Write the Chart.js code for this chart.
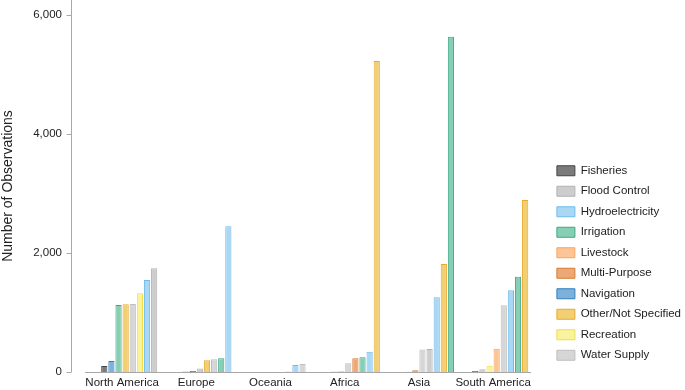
<!DOCTYPE html>
<html><head><meta charset="utf-8">
<script src="https://cdn.jsdelivr.net/npm/chart.js@4/dist/chart.umd.min.js"></script>
<style>html,body{margin:0;padding:0;background:#fff}#wrap{width:685px;height:390px;position:relative}</style>
</head><body><div id="wrap"><canvas id="c"></canvas></div>
<script>
// ---- data ----
const REGIONS = ['North America', 'Europe', 'Oceania', 'Africa', 'Asia', 'South America'];
const SERIES = ['Fisheries', 'Flood Control', 'Hydroelectricity', 'Irrigation', 'Livestock',
  'Multi-Purpose', 'Navigation', 'Other/Not Specified', 'Recreation', 'Water Supply'];
const fisheries         = [100,  17,   0,    0,    0,   17];
const floodControl      = [1743, 57,   0,    12,   385, 45];
const hydroelectricity  = [1546, 2450, 118,  341,  1255, 1373];
const irrigation        = [1126, 232,  0,    247,  5635, 1602];
const livestock         = [0,    0,    10,   8,    0,   392];
const multiPurpose      = [0,    0,    0,    230,  30,  0];
const navigation        = [185,  10,   0,    0,    0,   0];
const otherNotSpecified = [1138, 196,  0,    5227, 1815, 2890];
const recreation        = [1322, 5,    0,    0,    10,  107];
const waterSupply       = [1143, 213,  135,  145,  380, 1120];
const Y_TICKS = [0, 2000, 4000, 6000];

// ---- styles ----
const FILL = ['#7b7b7b', '#cdcdcd', '#a9d7f4', '#86cfb4', '#fdc496', '#eca977', '#7bb1da', '#f3cf74', '#f9f29e', '#d6d6d6'];
const STROKE = ['#454545', '#b3b3b3', '#6ebcea', '#3aa883', '#f9a55c', '#d87a30', '#2f80bf', '#e8aa2c', '#efdf45', '#bebebe'];

const VALUES = [fisheries, floodControl, hydroelectricity, irrigation, livestock,
  multiPurpose, navigation, otherNotSpecified, recreation, waterSupply];

// bars within each region are ordered by value (ascending)
const sorted = REGIONS.map((_, c) =>
  SERIES.map((_, s) => ({ s, v: VALUES[s][c] }))
    .sort((a, b) => a.v - b.v || a.s - b.s));

const datasets = SERIES.map((_, r) => ({
  label: 'rank' + r,
  data: REGIONS.map((_, c) => sorted[c][r].v || null),
  backgroundColor: REGIONS.map((_, c) => FILL[sorted[c][r].s]),
  borderColor: REGIONS.map((_, c) => STROKE[sorted[c][r].s]),
  borderWidth: 1,
  categoryPercentage: 0.96,
  barPercentage: 0.87
}));

Chart.defaults.font.family = "'Liberation Sans', Arial, Helvetica, sans-serif";
Chart.defaults.color = '#222';

const yAxisLine = {
  id: 'yAxisLine',
  afterDraw(chart) {
    const { ctx, chartArea } = chart;
    const y = chart.scales.y;
    const x = Math.round(chartArea.left - 14) + 0.5;
    ctx.save();
    ctx.strokeStyle = '#a8a8a8';
    ctx.lineWidth = 1;
    ctx.beginPath();
    ctx.moveTo(x, chartArea.top);
    ctx.lineTo(x, chartArea.bottom);
    Y_TICKS.forEach(v => {
      const py = Math.round(y.getPixelForValue(v)) + 0.5;
      ctx.moveTo(x - 5, py);
      ctx.lineTo(x, py);
    });
    ctx.stroke();
    ctx.restore();
  }
};

new Chart(document.getElementById('c'), {
  type: 'bar',
  data: { labels: REGIONS, datasets },
  options: {
    responsive: true,
    maintainAspectRatio: false,
    animation: false,
    layout: { padding: { left: 0, right: -6, top: 0, bottom: 0 } },
    plugins: {
      tooltip: { enabled: false },
      legend: {
        position: 'right',
        align: 'start',
        fullSize: false,
        onClick: () => {},
        title: {
          display: true,
          text: ' ',
          font: { size: 10, lineHeight: 1 },
          padding: { top: 146, bottom: 0 }
        },
        labels: {
          boxWidth: 18,
          boxHeight: 10,
          padding: 9,
          font: { size: 11.5 },
          color: '#222',
          generateLabels: () => SERIES.map((name, i) => ({
            text: name,
            fillStyle: FILL[i],
            strokeStyle: STROKE[i],
            lineWidth: 1,
            hidden: false,
            fontColor: '#222'
          }))
        }
      }
    },
    scales: {
      x: {
        grid: { display: false, drawTicks: false },
        border: { display: true, color: '#a8a8a8' },
        ticks: { font: { size: 11.5 }, color: '#222', padding: 4, maxRotation: 0, autoSkip: false },
        afterFit(s) { s.height = 18; s.paddingLeft = 0; s.paddingRight = 0; }
      },
      y: {
        min: 0,
        max: 6252,
        grid: { display: false, drawTicks: false },
        border: { display: false },
        afterBuildTicks(s) { s.ticks = Y_TICKS.map(v => ({ value: v })); },
        ticks: {
          font: { size: 11.5 },
          color: '#222',
          padding: 23,
          callback: v => Number(v).toLocaleString('en-US')
        },
        title: {
          display: true,
          text: 'Number of Observations',
          font: { size: 14 },
          color: '#222',
          padding: { top: 0, bottom: 0 }
        },
        afterFit(s) { s.width = 85; s.paddingTop = 0; s.paddingBottom = 0; }
      },
      yPad: {
        type: 'linear',
        position: 'right',
        display: false,
        afterFit(s) { s.width = 17.7; s.paddingTop = 0; s.paddingBottom = 0; }
      }
    }
  },
  plugins: [yAxisLine]
});
</script>
</body></html>
